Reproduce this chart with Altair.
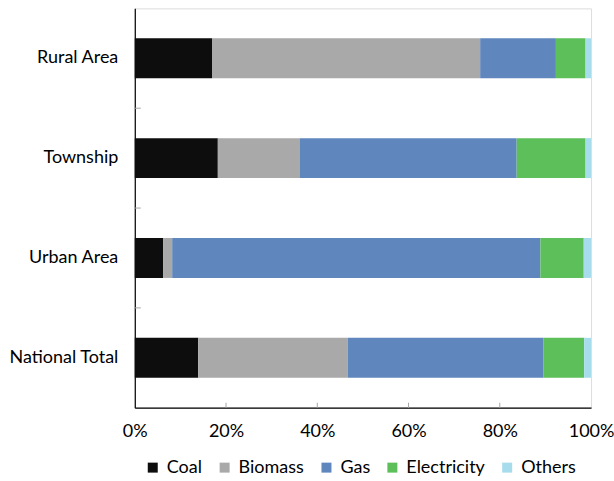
import altair as alt
import pandas as pd

categories = ["Rural Area", "Township", "Urban Area", "National Total"]
sources = ["Coal", "Biomass", "Gas", "Electricity", "Others"]
colors = ["#0d0d0d", "#a9a9a9", "#5f86bd", "#5cbf5a", "#a6dcec"]

coal = [17.0, 18.2, 6.2, 13.9]
biomass = [58.7, 17.9, 2.0, 32.8]
gas = [16.6, 47.6, 80.7, 42.9]
electricity = [6.5, 15.1, 9.5, 8.9]
others = [1.2, 1.2, 1.6, 1.5]

x_tick_values = [0.2, 0.4, 0.6, 0.8]
boundary_categories = ["Township", "Urban Area", "National Total"]

series = [coal, biomass, gas, electricity, others]
rows = []
for si, (src, vals) in enumerate(zip(sources, series)):
    for cat, v in zip(categories, vals):
        rows.append({"area": cat, "source": src, "value": v, "order": si})
df = pd.DataFrame(rows)

FONT = "Lato"
FS = 18

y_scale = alt.Scale(domain=categories, paddingInner=0.6, paddingOuter=0.3)
x_scale = alt.Scale(domain=[0, 1])

bars = alt.Chart(df).mark_bar().encode(
    y=alt.Y("area:N", sort=categories, scale=y_scale,
            axis=alt.Axis(title=None, ticks=False, labelPadding=17,
                          labelFontSize=FS, labelFont=FONT, labelColor="#000",
                          domainColor="#000", domainWidth=1.2,
                          minExtent=130, maxExtent=130)),
    x=alt.X("value:Q", stack="normalize", scale=x_scale,
            axis=alt.Axis(title=None, format=".0%", values=[0, 0.2, 0.4, 0.6, 0.8, 1.0],
                          ticks=False, grid=False, labelPadding=15, labelFlush=False,
                          labelFontSize=FS, labelFont=FONT, labelColor="#000",
                          domainColor="#000", domainWidth=1.2)),
    color=alt.Color("source:N", scale=alt.Scale(domain=sources, range=colors),
                    legend=alt.Legend(title=None, orient="none", legendX=9, legendY=451,
                                      direction="horizontal",
                                      symbolType="square", symbolSize=100,
                                      symbolStrokeWidth=0,
                                      labelFontSize=FS, labelFont=FONT, labelColor="#000",
                                      columnPadding=13, labelOffset=5)),
    order=alt.Order("order:Q"),
)

xticks = alt.Chart(pd.DataFrame({"t": x_tick_values})).mark_rule(
    color="#a6a6a6", strokeWidth=1
).encode(
    x=alt.X("t:Q", scale=x_scale, title=None),
    y=alt.value(395), y2=alt.value(400),
)

yticks = alt.Chart(pd.DataFrame({"area": boundary_categories})).mark_rule(
    color="#a6a6a6", strokeWidth=1
).encode(
    y=alt.Y("area:N", sort=categories, scale=y_scale, title=None),
    yOffset=alt.value(-30),
    x=alt.value(0), x2=alt.value(6),
)

chart = alt.layer(bars, xticks, yticks).properties(
    width=457, height=400,
    padding={"left": 5, "top": 8, "right": 0, "bottom": 0},
).configure_view(stroke="#c8c8f4", strokeWidth=1).configure(background="white")

chart.save("out.html", embed_options={"renderer": "svg", "actions": False})
